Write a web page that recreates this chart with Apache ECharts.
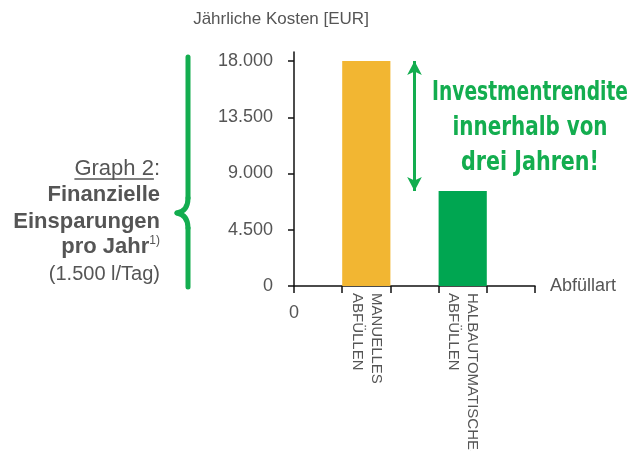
<!DOCTYPE html>
<html>
<head>
<meta charset="utf-8">
<script src="https://cdn.jsdelivr.net/npm/echarts@6/dist/echarts.min.js"></script>
<style>
html,body{margin:0;padding:0;background:#fff;}
#chart{width:630px;height:451px;}
</style>
</head>
<body>
<div id="chart"></div>
<script>
// ---- data ----
const categories = ['', 'MANUELLES\nABFÜLLEN', ' ', 'HALBAUTOMATISCHES\nABFÜLLEN', '  '];
const manualValues = [null, 18000, null, null, null];
const semiAutoValues = [null, null, null, 7600, null];
const yTickValues = [0, 4500, 9000, 13500, 18000];
const yAxisName = 'Jährliche Kosten [EUR]';
const xAxisName = 'Abfüllart';
const sideLines = ['Graph 2', ':', 'Finanzielle', 'Einsparungen', 'pro Jahr', '1)', '(1.500 l/Tag)'];
const noteLines = ['Investmentrendite', 'innerhalb von', 'drei Jahren!'];

const FONT = '"Liberation Sans", Arial, Helvetica, sans-serif';
const NOTEFONT = '"DejaVu Sans Condensed", "Liberation Sans", sans-serif';
const GRAY = '#555555';
const GREEN = '#13ad4f';

const cv = document.createElement('canvas').getContext('2d');
function tw(text, font) {
  cv.font = font;
  return cv.measureText(text).width;
}
function fmt(v) { return String(v).replace(/\B(?=(\d{3})+(?!\d))/g, '.'); }

const RIGHT = 160;
const F_REG = 'normal 22px ' + FONT;
const F_BOLD = 'bold 22px ' + FONT;
const F_SUP = 'normal 12px ' + FONT;
const F_NOTE = 'bold 26px ' + NOTEFONT;
const colonW = tw(sideLines[1], F_REG);
const graphW = tw(sideLines[0], F_REG);
const supW = tw(sideLines[5], F_SUP);
const noteWidths = [196, 155, 138];
const braceStyle = { stroke: GREEN, lineWidth: 5, fill: null, lineCap: 'round', lineJoin: 'round' };

function noteText(i, y) {
  return { type: 'text', x: 530, y: y, scaleX: noteWidths[i] / tw(noteLines[i], F_NOTE),
    style: { text: noteLines[i], font: F_NOTE, fill: GREEN, align: 'center', verticalAlign: 'middle' } };
}

const chart = echarts.init(document.getElementById('chart'));
const option = {
  animation: false,
  backgroundColor: '#ffffff',
  grid: { left: 294, top: 52, width: 241, height: 234, outerBoundsMode: 'none', containLabel: false },
  xAxis: {
    type: 'category',
    data: categories,
    boundaryGap: true,
    name: xAxisName,
    nameLocation: 'end',
    nameGap: 15,
    nameTextStyle: { fontFamily: FONT, fontSize: 18, color: GRAY, verticalAlign: 'middle' },
    axisLine: { show: true, lineStyle: { color: '#111', width: 1.5 } },
    axisTick: { show: true, length: 7, alignWithLabel: false, interval: 0, lineStyle: { color: '#111', width: 1.5 } },
    axisLabel: { interval: 0, rotate: -90, margin: 7, fontFamily: FONT, fontSize: 15, lineHeight: 19, color: GRAY },
    splitLine: { show: false }
  },
  yAxis: {
    type: 'value',
    min: 0,
    max: 18720,
    name: yAxisName,
    nameLocation: 'end',
    nameGap: 24,
    nameTextStyle: { fontFamily: FONT, fontSize: 17, color: GRAY, padding: [0, 26, 0, 0] },
    axisLine: { show: true, lineStyle: { color: '#111', width: 1.5 } },
    axisTick: { show: true, length: 6, customValues: yTickValues, lineStyle: { color: '#111', width: 1.5 } },
    axisLabel: { customValues: yTickValues, margin: 21, fontFamily: FONT, fontSize: 18, color: GRAY, formatter: fmt },
    splitLine: { show: false }
  },
  series: [
    {
      type: 'bar', name: 'manuell', data: manualValues,
      barWidth: '100%', barGap: '-100%',
      itemStyle: { color: '#F2B632' }
    },
    {
      type: 'bar', name: 'halbautomatisch', data: semiAutoValues,
      barWidth: '100%', barGap: '-100%',
      itemStyle: { color: '#00A651' },
      markLine: {
        silent: true,
        symbol: ['arrow', 'arrow'],
        symbolSize: [11, 14],
        label: { show: false },
        lineStyle: { color: GREEN, width: 3, type: 'solid' },
        data: [[{ coord: [2, Math.max(...manualValues.filter(v => v != null))] },
                { coord: [2, Math.max(...semiAutoValues.filter(v => v != null))] }]]
      }
    }
  ],
  graphic: [
    { type: 'text', x: 294, y: 313, style: { text: '0', font: 'normal 18px ' + FONT, fill: GRAY, align: 'center', verticalAlign: 'middle' } },
    // left description
    { type: 'text', x: RIGHT, y: 169, style: { text: sideLines[1], font: F_REG, fill: GRAY, align: 'right', verticalAlign: 'middle' } },
    { type: 'text', x: RIGHT - colonW, y: 169, style: { text: sideLines[0], font: F_REG, fill: GRAY, align: 'right', verticalAlign: 'middle' } },
    { type: 'line', shape: { x1: RIGHT - colonW - graphW, y1: 179, x2: RIGHT - colonW, y2: 179 }, style: { stroke: GRAY, lineWidth: 1.3 } },
    { type: 'text', x: RIGHT, y: 195, style: { text: sideLines[2], font: F_BOLD, fill: GRAY, align: 'right', verticalAlign: 'middle' } },
    { type: 'text', x: RIGHT, y: 222, style: { text: sideLines[3], font: F_BOLD, fill: GRAY, align: 'right', verticalAlign: 'middle' } },
    { type: 'text', x: RIGHT - supW, y: 247, style: { text: sideLines[4], font: F_BOLD, fill: GRAY, align: 'right', verticalAlign: 'middle' } },
    { type: 'text', x: RIGHT, y: 241, style: { text: sideLines[5], font: F_SUP, fill: GRAY, align: 'right', verticalAlign: 'middle' } },
    { type: 'text', x: RIGHT, y: 274, style: { text: sideLines[6], font: 'normal 20px ' + FONT, fill: GRAY, align: 'right', verticalAlign: 'middle' } },
    // brace
    { type: 'line', shape: { x1: 188, y1: 57, x2: 188, y2: 198 }, style: braceStyle },
    { type: 'bezierCurve', shape: { x1: 188, y1: 198, cpx1: 188, cpy1: 211, x2: 177, y2: 213 }, style: braceStyle },
    { type: 'bezierCurve', shape: { x1: 177, y1: 213, cpx1: 188, cpy1: 215, x2: 188, y2: 228 }, style: braceStyle },
    { type: 'line', shape: { x1: 188, y1: 228, x2: 188, y2: 287 }, style: braceStyle },
    // annotation
    noteText(0, 93),
    noteText(1, 128),
    noteText(2, 163)
  ]
};
chart.setOption(option);
</script>
</body>
</html>
